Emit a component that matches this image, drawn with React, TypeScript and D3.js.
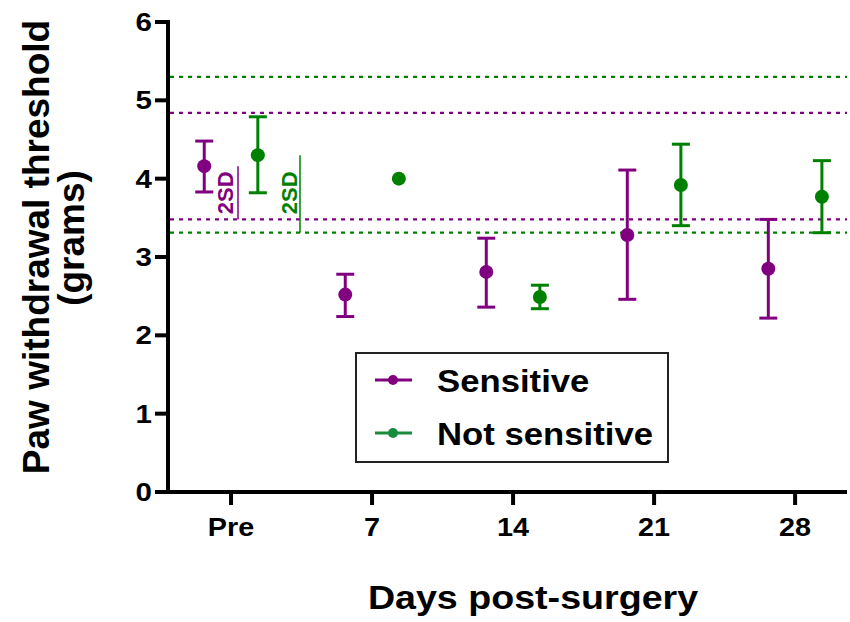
import * as d3 from "d3";

const DAYS = ["Pre", "7", "14", "21", "28"];
const Y_TICKS = [0, 1, 2, 3, 4, 5, 6];

const SENS_MEAN = [4.16, 2.52, 2.81, 3.28, 2.85];
const SENS_LOW = [3.83, 2.24, 2.36, 2.46, 2.22];
const SENS_HIGH = [4.48, 2.78, 3.24, 4.11, 3.48];

const NOT_MEAN = [4.3, 4.0, 2.49, 3.92, 3.77];
const NOT_LOW = [3.82, null, 2.34, 3.4, 3.31];
const NOT_HIGH = [4.79, null, 2.64, 4.44, 4.23];

// 2SD bands (upper / lower) for each group
const SENS_BAND = [4.84, 3.48];
const NOT_BAND = [5.3, 3.31];

const PURPLE = "#800080";
const GREEN = "#008000";
const FONT = "'Liberation Sans', Arial, sans-serif";

const WIDTH = 850;
const HEIGHT = 622;
const AXIS_LEFT = 168;
const AXIS_RIGHT = 847;
const AXIS_BOTTOM = 492;

const SERIES = [
  { name: "Sensitive", color: PURPLE, legendColor: PURPLE, offset: -0.19, mean: SENS_MEAN, low: SENS_LOW, high: SENS_HIGH },
  { name: "Not sensitive", color: GREEN, legendColor: "#188c3c", offset: 0.19, mean: NOT_MEAN, low: NOT_LOW, high: NOT_HIGH },
];

const bold = { fontFamily: FONT, fontWeight: 700 as const };

export default function App() {
  const x = d3.scaleLinear().domain([-0.447, 4.368]).range([AXIS_LEFT, AXIS_RIGHT]);
  const y = d3.scaleLinear().domain([0, 6]).range([AXIS_BOTTOM, 22]);

  return (
    <svg width={WIDTH} height={HEIGHT} style={{ position: "absolute", left: 0, top: 0 }}>
      <rect width={WIDTH} height={HEIGHT} fill="#fff" />

      {/* threshold lines */}
      {SENS_BAND.map((v, i) => (
        <line key={"sb" + i} x1={AXIS_LEFT + 2} x2={AXIS_RIGHT} y1={y(v)} y2={y(v)}
          stroke={PURPLE} strokeWidth={2.2} strokeDasharray="4 5" />
      ))}
      {NOT_BAND.map((v, i) => (
        <line key={"nb" + i} x1={AXIS_LEFT + 2} x2={AXIS_RIGHT} y1={y(v)} y2={y(v)}
          stroke={GREEN} strokeWidth={2.2} strokeDasharray="4 5" />
      ))}

      {/* 2SD annotations */}
      <line x1={238} x2={238} y1={y(SENS_MEAN[0])} y2={y(SENS_BAND[1])} stroke={PURPLE} strokeWidth={1.5} />
      <text transform={`translate(233, ${(y(SENS_MEAN[0]) + y(SENS_BAND[1])) / 2}) rotate(-90)`}
        textAnchor="middle" fill={PURPLE} fontSize={22} {...bold}>2SD</text>
      <line x1={300} x2={300} y1={y(NOT_MEAN[0])} y2={y(NOT_BAND[1])} stroke={GREEN} strokeWidth={1.5} />
      <text transform={`translate(297, ${(y(SENS_MEAN[0]) + y(SENS_BAND[1])) / 2}) rotate(-90)`}
        textAnchor="middle" fill={GREEN} fontSize={22} {...bold}>2SD</text>

      {/* data */}
      {SERIES.map((s) => (
        <g key={s.name}>
          {s.mean.map((m, i) => {
            const cx = x(i + s.offset);
            const lo = s.low[i];
            const hi = s.high[i];
            return (
              <g key={i}>
                {lo != null && hi != null && (
                  <g stroke={s.color} strokeWidth={3}>
                    <line x1={cx} x2={cx} y1={y(hi)} y2={y(lo)} />
                    <line x1={cx - 9} x2={cx + 9} y1={y(hi)} y2={y(hi)} />
                    <line x1={cx - 9} x2={cx + 9} y1={y(lo)} y2={y(lo)} />
                  </g>
                )}
                <circle cx={cx} cy={y(m)} r={7} fill={s.color} />
              </g>
            );
          })}
        </g>
      ))}

      {/* y axis */}
      <line x1={AXIS_LEFT} x2={AXIS_LEFT} y1={y(6) - 2} y2={AXIS_BOTTOM + 2} stroke="#000" strokeWidth={4} />
      {Y_TICKS.map((t) => (
        <g key={t}>
          <line x1={155} x2={AXIS_LEFT} y1={y(t)} y2={y(t)} stroke="#000" strokeWidth={4} />
          <text transform={`translate(152, ${y(t) + 9}) scale(1.18, 1)`} textAnchor="end"
            fontSize={25} {...bold}>{t}</text>
        </g>
      ))}

      {/* x axis */}
      <line x1={AXIS_LEFT - 2} x2={AXIS_RIGHT} y1={AXIS_BOTTOM} y2={AXIS_BOTTOM} stroke="#000" strokeWidth={4} />
      {DAYS.map((d, i) => (
        <g key={d}>
          <line x1={x(i)} x2={x(i)} y1={AXIS_BOTTOM} y2={AXIS_BOTTOM + 13} stroke="#000" strokeWidth={4} />
          <text transform={`translate(${x(i)}, 536) scale(1.15, 1)`} textAnchor="middle"
            fontSize={25} {...bold}>{d}</text>
        </g>
      ))}

      {/* axis titles */}
      <text transform="translate(533, 609) scale(1.14, 1)" textAnchor="middle" fontSize={33} {...bold}>
        Days post-surgery
      </text>
      <text transform="translate(49, 247) rotate(-90)" textAnchor="middle" fontSize={37} {...bold}>
        Paw withdrawal threshold
      </text>
      <text transform="translate(84, 238) rotate(-90)" textAnchor="middle" fontSize={37} {...bold}>
        (grams)
      </text>

      {/* legend */}
      <rect x={356} y={353} width={312} height={109} fill="#fff" stroke="#222" strokeWidth={2} />
      {SERIES.map((s, i) => {
        const ly = 380 + i * 53;
        return (
          <g key={s.name}>
            <line x1={375} x2={412} y1={ly} y2={ly} stroke={s.legendColor} strokeWidth={3} />
            <circle cx={393} cy={ly} r={5} fill={s.legendColor} />
            <text transform={`translate(437, ${ly + 12}) scale(1.12, 1)`} fontSize={31} {...bold}>
              {s.name}
            </text>
          </g>
        );
      })}
    </svg>
  );
}
